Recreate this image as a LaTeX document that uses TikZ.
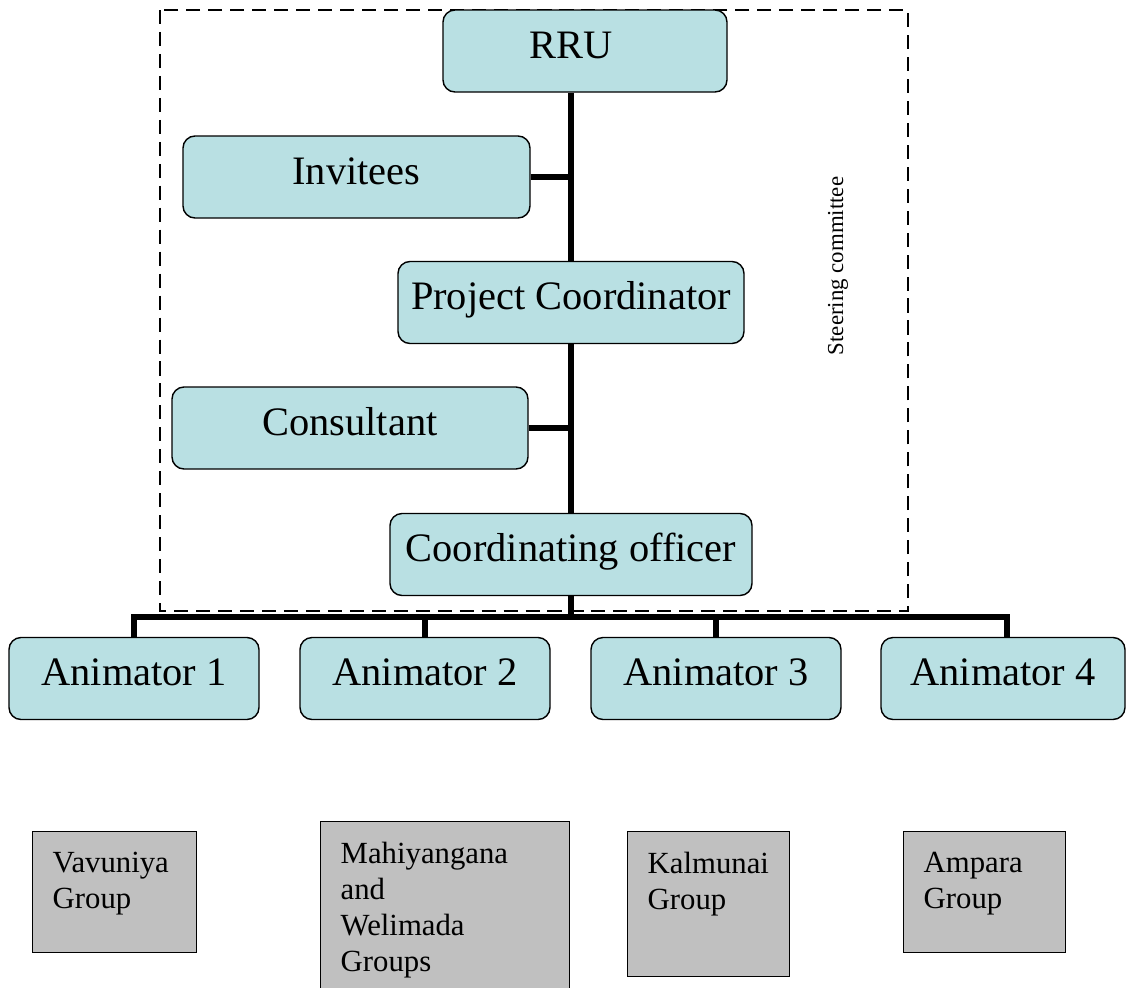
\documentclass[tikz,border=0pt]{standalone}
\usepackage{fontspec}
\setmainfont{Liberation Serif}
\usetikzlibrary{positioning}
\definecolor{boxblue}{RGB}{185,224,227}
\definecolor{boxgray}{RGB}{192,192,192}

\begin{document}
\begin{tikzpicture}[
       role/.style = {draw, line width=0.8pt, rounded corners=0.24cm, fill=boxblue,
                      minimum height=1.64cm, text height=0.66cm, text depth=0.38cm,
                      font=\fontsize{23}{27}\selectfont},
   groupbox/.style = {draw, line width=0.8pt, fill=boxgray, anchor=north west,
                      inner sep=0.4cm, font=\fontsize{17.5}{20.5}\selectfont},
       link/.style = {line width=3.4pt},
  committee/.style = {line width=0.6pt, dash pattern=on 8pt off 4.5pt}
                        ]
\useasboundingbox (0,0) rectangle (22.52,-19.74);
% steering committee frame
    \draw[committee] (3.2,-0.2) rectangle (18.16,-12.22);
    \node[rotate=90, font=\fontsize{13}{15}\selectfont] (steer) at (16.76,-5.32) {Steering committee};
% roles
    \node[role, minimum width=5.68cm] (rru)  at (11.70,-1.02) {\hspace*{-0.56cm}RRU};
    \node[role, minimum width=6.94cm] (inv)  at (7.13,-3.54)  {Invitees};
    \node[role, minimum width=6.92cm] (pc)   at (11.42,-6.05) {Project Coordinator};
    \node[role, minimum width=7.12cm] (cons) at (7.00,-8.56)  {Consultant};
    \node[role, minimum width=7.24cm] (co)   at (11.42,-11.09) {Coordinating officer};
% animators
    \node[role, minimum width=5.0cm]  (an1) at (2.68,-13.57)  {Animator 1};
    \node[role, minimum width=5.0cm]  (an2) at (8.50,-13.57)  {Animator 2};
    \node[role, minimum width=5.0cm]  (an3) at (14.32,-13.57) {Animator 3};
    \node[role, minimum width=4.88cm] (an4) at (20.06,-13.57) {Animator 4};
% groups
    \node[groupbox] (vav)  at (0.64,-16.62)  {\parbox[t][1.62cm][t]{2.48cm}{Vavuniya\\Group}};
    \node[groupbox] (mahi) at (6.40,-16.42)  {\parbox[t][2.70cm][t]{4.18cm}{Mahiyangana\\and\\Welimada\\Groups}};
    \node[groupbox] (kal)  at (12.54,-16.62) {\parbox[t][2.10cm][t]{2.44cm}{Kalmunai\\Group}};
    \node[groupbox] (amp)  at (18.06,-16.62) {\parbox[t][1.62cm][t]{2.44cm}{Ampara\\Group}};
% lines
\coordinate (d1) at (2.68,-12.34);
\coordinate (d2) at (8.50,-12.34);
\coordinate (d3) at (14.32,-12.34);
\coordinate (d4) at (20.14,-12.34);
    \draw[link] (rru.south -| pc.north) -- (pc.north);
    \draw[link] (pc.south) -- (co.north);
    \draw[link] (inv.east) -- (inv.east -| pc.north);
    \draw[link] (cons.east) -- (cons.east -| pc.south);
    \draw[link] (co.south) -- (co.south |- d1);
    \draw[link] (an1.north -| d1) |- (d4) -- (an4.north -| d4);
    \draw[link] (d2) -- (an2.north -| d2);
    \draw[link] (d3) -- (an3.north -| d3);
\end{tikzpicture}
\end{document}
